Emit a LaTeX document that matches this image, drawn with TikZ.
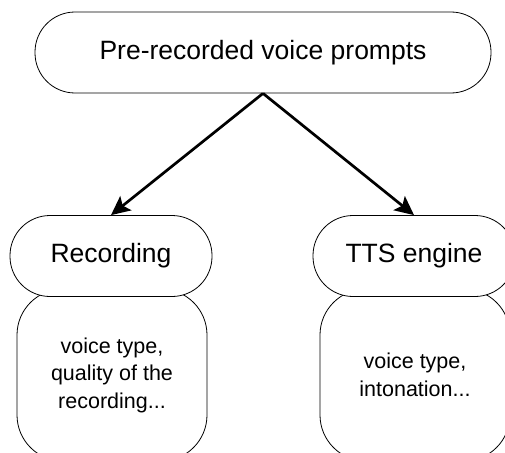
\documentclass[tikz,border=0pt]{standalone}
\usepackage{fontspec}
\setmainfont{Liberation Sans}
\usetikzlibrary{arrows.meta}

\begin{document}
\begin{tikzpicture}[x=1pt,y=-1pt,
  stadium/.style={draw, line width=0.8pt, fill=white, rectangle,
    rounded corners=40pt, inner sep=0pt, minimum height=81pt,
    font=\fontsize{26.5}{32}\selectfont},
  detailbox/.style={draw, line width=0.8pt, rectangle, rounded corners=46pt,
    inner sep=0pt, minimum width=190pt, minimum height=172pt, align=center,
    font=\fontsize{21.5}{27.5}\selectfont},
  link/.style={line width=2.7pt, -{Stealth[length=19pt,width=18pt,inset=4pt]}}]
  \useasboundingbox (0,0) rectangle (505,452);
  \clip (0,0) rectangle (505,452);

  % detail boxes behind the headings
  \node[detailbox] (recinfo) at (112,375) {voice type,\\quality of the\\recording...};
  \node[detailbox] (ttsinfo) at (415,375) {voice type,\\intonation...};

  % headings
  \node[stadium, minimum width=456pt] (top) at (263,52.5) {Pre-recorded voice prompts};
  \node[stadium, minimum width=202pt] (rec) at (111,256) {Recording};
  \node[stadium, minimum width=202pt] (tts) at (414,256) {TTS engine};

  % connectors
  \draw[link] (top.south) -- (rec.north);
  \draw[link] (top.south) -- (tts.north);
\end{tikzpicture}
\end{document}
